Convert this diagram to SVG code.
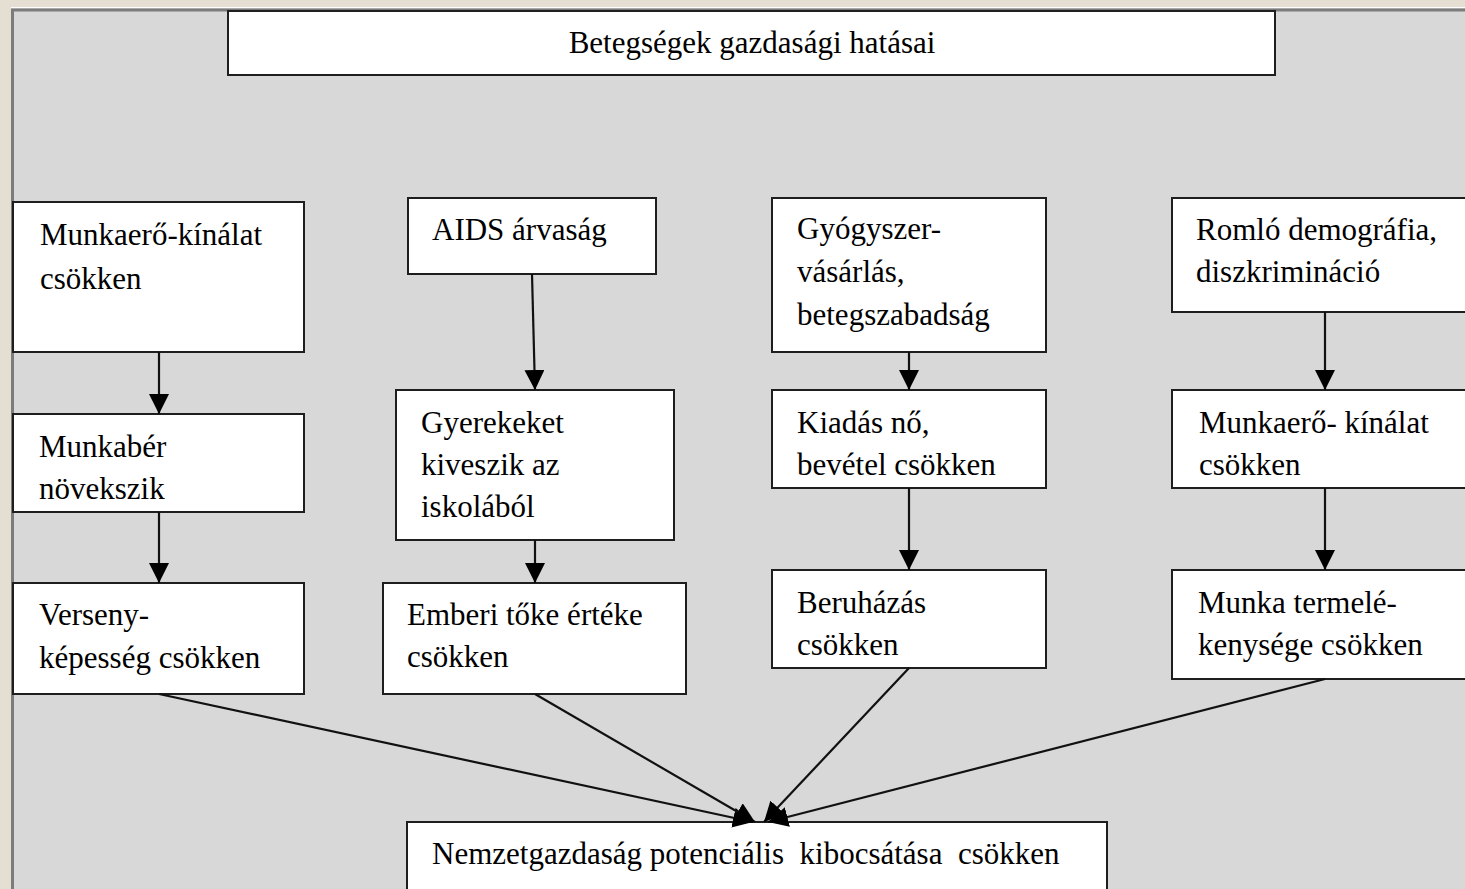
<svg xmlns="http://www.w3.org/2000/svg" width="1465" height="889" viewBox="0 0 1465 889">
<style>
.box{fill:#ffffff;stroke:#1e1e1e;stroke-width:2}
.t{font-family:"Liberation Serif","Times New Roman",serif;font-size:31px;fill:#000}
.c{stroke:#111;stroke-width:2.2;fill:none;marker-end:url(#ah)}
</style>
<defs>
<marker id="ah" markerUnits="userSpaceOnUse" markerWidth="20" markerHeight="20" refX="18" refY="9" orient="auto" viewBox="0 0 18 18">
<path d="M0,0 L18,9 L0,18 z" fill="#000"/>
</marker>
</defs>
<rect x="0" y="0" width="1465" height="889" fill="#e5ded3"/>
<rect x="11" y="8" width="1454" height="881" fill="#d8d8d8"/>
<line x1="11" y1="7.5" x2="1465" y2="7.5" stroke="#ffffff" stroke-width="1"/>
<line x1="11" y1="10" x2="1465" y2="10" stroke="#7c7c7c" stroke-width="3"/>
<line x1="12.5" y1="9" x2="12.5" y2="889" stroke="#7c7c7c" stroke-width="3"/>

<g id="title"><rect class="box" x="228" y="11" width="1047" height="64"/><text class="t" x="752" y="53" text-anchor="middle">Betegségek gazdasági hatásai</text></g>

<g id="n1"><rect class="box" x="13" y="202" width="291" height="150"/><text class="t" x="40" y="245">Munkaerő-kínálat</text><text class="t" x="40" y="289">csökken</text></g>
<g id="n2"><rect class="box" x="13" y="414" width="291" height="98"/><text class="t" x="39" y="457">Munkabér</text><text class="t" x="39" y="499">növekszik</text></g>
<g id="n3"><rect class="box" x="13" y="583" width="291" height="111"/><text class="t" x="39" y="625">Verseny-</text><text class="t" x="39" y="668">képesség csökken</text></g>

<g id="n4"><rect class="box" x="408" y="198" width="248" height="76"/><text class="t" x="432" y="240">AIDS árvaság</text></g>
<g id="n5"><rect class="box" x="396" y="390" width="278" height="150"/><text class="t" x="421" y="433">Gyerekeket</text><text class="t" x="421" y="475">kiveszik az</text><text class="t" x="421" y="517">iskolából</text></g>
<g id="n6"><rect class="box" x="383" y="583" width="303" height="111"/><text class="t" x="407" y="625">Emberi tőke értéke</text><text class="t" x="407" y="667">csökken</text></g>

<g id="n7"><rect class="box" x="772" y="198" width="274" height="154"/><text class="t" x="797" y="239">Gyógyszer-</text><text class="t" x="797" y="282">vásárlás,</text><text class="t" x="797" y="325">betegszabadság</text></g>
<g id="n8"><rect class="box" x="772" y="390" width="274" height="98"/><text class="t" x="797" y="433">Kiadás nő,</text><text class="t" x="797" y="475">bevétel csökken</text></g>
<g id="n9"><rect class="box" x="772" y="570" width="274" height="98"/><text class="t" x="797" y="613">Beruházás</text><text class="t" x="797" y="655">csökken</text></g>

<g id="n10"><rect class="box" x="1172" y="198" width="310" height="114"/><text class="t" x="1196" y="240">Romló demográfia,</text><text class="t" x="1196" y="282">diszkrimináció</text></g>
<g id="n11"><rect class="box" x="1172" y="390" width="310" height="98"/><text class="t" x="1199" y="433">Munkaerő- kínálat</text><text class="t" x="1199" y="475">csökken</text></g>
<g id="n12"><rect class="box" x="1172" y="570" width="310" height="109"/><text class="t" x="1198" y="613">Munka termelé-</text><text class="t" x="1198" y="655">kenysége csökken</text></g>

<g id="n13"><rect class="box" x="407" y="822" width="700" height="80"/><text class="t" x="432" y="864" style="white-space:pre" xml:space="preserve">Nemzetgazdaság potenciális  kibocsátása  csökken</text></g>

<g id="connectors">
<line class="c" x1="159" y1="352" x2="159" y2="414"/>
<line class="c" x1="159" y1="512" x2="159" y2="583"/>
<line class="c" x1="532" y1="274" x2="535" y2="390"/>
<line class="c" x1="535" y1="540" x2="535" y2="583"/>
<line class="c" x1="909" y1="352" x2="909" y2="390"/>
<line class="c" x1="909" y1="488" x2="909" y2="570"/>
<line class="c" x1="1325" y1="312" x2="1325" y2="390"/>
<line class="c" x1="1325" y1="488" x2="1325" y2="570"/>
<line class="c" x1="159" y1="694" x2="753" y2="822"/>
<line class="c" x1="535" y1="694" x2="755" y2="822"/>
<line class="c" x1="909" y1="668" x2="764" y2="822"/>
<line class="c" x1="1325" y1="679" x2="768" y2="822"/>
</g>
</svg>
